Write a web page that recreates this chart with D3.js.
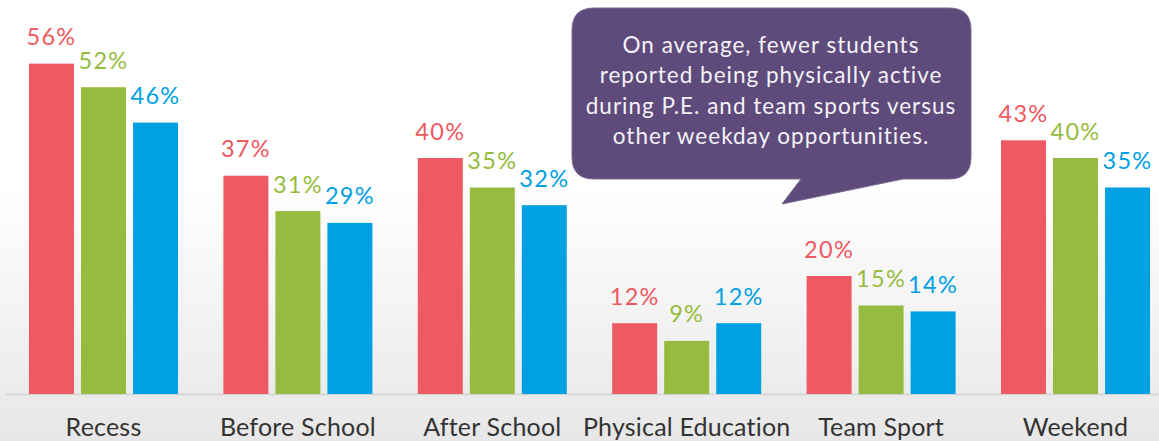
<!DOCTYPE html>
<html>
<head>
<meta charset="utf-8">
<script src="https://cdn.jsdelivr.net/npm/d3@7"></script>
<style>
  html, body { margin: 0; padding: 0; background: #fff; }
  svg { display: block; }
</style>
</head>
<body>
<svg id="chart" width="1159" height="441"></svg>
<script>
// Share of students reporting being physically active, by time of day / setting
const categories = ["Recess", "Before School", "After School", "Physical Education", "Team Sport", "Weekend"];
const seriesKeys = ["a", "b", "c"];
const seriesA = [56, 37, 40, 12, 20, 43];
const seriesB = [52, 31, 35, 9, 15, 40];
const seriesC = [46, 29, 32, 12, 14, 35];
const seriesColors = ["#EF5961", "#95BC3E", "#00A1E3"];
const yMax = 60;

const calloutLines = [
  "On average, fewer students",
  "reported being physically active",
  "during P.E. and team sports versus",
  "other weekday opportunities."
];

const W = 1159, H = 441;
const svg = d3.select("#chart");

// soft vertical background wash
const defs = svg.append("defs");
const grad = defs.append("linearGradient")
  .attr("id", "bg").attr("x1", 0).attr("y1", 0).attr("x2", 0).attr("y2", 1);
grad.append("stop").attr("offset", "0%").attr("stop-color", "#ffffff");
grad.append("stop").attr("offset", "42%").attr("stop-color", "#ffffff");
grad.append("stop").attr("offset", "100%").attr("stop-color", "#e7e7e7");
svg.append("rect").attr("width", W).attr("height", H).attr("fill", "url(#bg)");

const baseY = 394;
const x0 = d3.scaleBand().domain(categories).range([6.3, 1172.7])
  .paddingInner(0.2335).paddingOuter(0.2335 / 2);
const x1 = d3.scaleBand().domain(seriesKeys).range([0, x0.bandwidth()])
  .paddingInner(0.135).paddingOuter(0);
const y = d3.scaleLinear().domain([0, yMax]).range([baseY, baseY - 354]);
const color = d3.scaleOrdinal().domain(seriesKeys).range(seriesColors);

const table = categories.map((c, i) => ({
  category: c,
  values: [
    { key: "a", value: seriesA[i] },
    { key: "b", value: seriesB[i] },
    { key: "c", value: seriesC[i] }
  ]
}));

// baseline
svg.append("line")
  .attr("x1", 6).attr("x2", W)
  .attr("y1", baseY + 0.5).attr("y2", baseY + 0.5)
  .attr("stroke", "#d3d3d3").attr("stroke-width", 1.5);

const groups = svg.append("g").selectAll("g")
  .data(table).join("g")
  .attr("transform", d => `translate(${x0(d.category)},0)`);

groups.selectAll("rect")
  .data(d => d.values).join("rect")
  .attr("x", d => x1(d.key))
  .attr("width", x1.bandwidth())
  .attr("y", d => y(d.value))
  .attr("height", d => y(0) - y(d.value))
  .attr("fill", d => color(d.key));

groups.selectAll("text")
  .data(d => d.values).join("text")
  .attr("x", d => x1(d.key) + x1.bandwidth() / 2)
  .attr("y", d => y(d.value) - 18.5)
  .attr("text-anchor", "middle")
  .attr("font-family", "Lato, 'Noto Sans', sans-serif")
  .attr("font-size", 23.5)
  .attr("letter-spacing", 1.3)
  .attr("fill", d => color(d.key))
  .text(d => d.value + "%");

// category axis labels
const xAxis = d3.axisBottom(x0).tickSize(0).tickPadding(0);
const axisG = svg.append("g").attr("transform", `translate(0,${baseY})`).call(xAxis);
axisG.select(".domain").remove();
axisG.selectAll("text")
  .attr("y", 42).attr("dy", 0)
  .attr("font-family", "Lato, 'Noto Sans', sans-serif")
  .attr("font-size", 25)
  .attr("letter-spacing", 0.2)
  .attr("fill", "#333333");

// speech bubble
const bx0 = 572, bx1 = 971, by0 = 8, by1 = 179, r = 22;
const tailL = 801, tailR = 903, tipX = 782, tipY = 204;
const bubble = d3.path();
bubble.moveTo(bx0 + r, by0);
bubble.lineTo(bx1 - r, by0);
bubble.quadraticCurveTo(bx1, by0, bx1, by0 + r);
bubble.lineTo(bx1, by1 - r);
bubble.quadraticCurveTo(bx1, by1, bx1 - r, by1);
bubble.lineTo(tailR, by1);
bubble.lineTo(tipX, tipY);
bubble.lineTo(tailL, by1);
bubble.lineTo(bx0 + r, by1);
bubble.quadraticCurveTo(bx0, by1, bx0, by1 - r);
bubble.lineTo(bx0, by0 + r);
bubble.quadraticCurveTo(bx0, by0, bx0 + r, by0);
bubble.closePath();
svg.append("path")
  .attr("d", bubble.toString())
  .attr("fill", "#5E4B7B")
  .attr("stroke", "#7a6a93")
  .attr("stroke-width", 1);

svg.append("g").selectAll("text")
  .data(calloutLines).join("text")
  .attr("x", 771)
  .attr("y", (d, i) => 53 + i * 30.3)
  .attr("text-anchor", "middle")
  .attr("font-family", "Lato, 'Noto Sans', sans-serif")
  .attr("font-size", 22.5)
  .attr("letter-spacing", 1)
  .attr("fill", "#f4f2f7")
  .text(d => d);
</script>
</body>
</html>
